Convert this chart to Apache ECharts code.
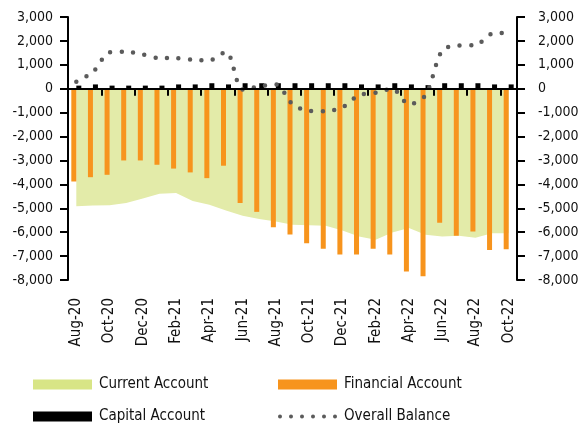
<!DOCTYPE html>
<html>
<head>
<meta charset="utf-8">
<script src="https://cdn.jsdelivr.net/npm/echarts@6/dist/echarts.min.js"></script>
<style>
  html, body { margin: 0; padding: 0; background: #fff; }
  #chart { width: 588px; height: 429px; }
</style>
</head>
<body>
<div id="chart"></div>
<script>
var MONTHS = ['Aug-20', 'Sep-20', 'Oct-20', 'Nov-20', 'Dec-20', 'Jan-21', 'Feb-21', 'Mar-21', 'Apr-21',
    'May-21', 'Jun-21', 'Jul-21', 'Aug-21', 'Sep-21', 'Oct-21', 'Nov-21', 'Dec-21', 'Jan-22', 'Feb-22',
    'Mar-22', 'Apr-22', 'May-22', 'Jun-22', 'Jul-22', 'Aug-22', 'Sep-22', 'Oct-22'];

var CURRENT_ACCOUNT = [-4920, -4880, -4870, -4780, -4590, -4390, -4360, -4700, -4850, -5090, -5310, -5450,
    -5550, -5690, -5710, -5730, -5930, -6180, -6320, -6010, -5830, -6110, -6180, -6150, -6230, -6040, -6040];

var FINANCIAL_ACCOUNT = [-3880, -3700, -3600, -3000, -3000, -3180, -3340, -3500, -3740, -3220, -4780, -5150,
    -5790, -6100, -6460, -6690, -6930, -6930, -6690, -6930, -7640, -7840, -5610, -6150, -5970, -6750, -6710];

var CAPITAL_ACCOUNT = [130, 180, 130, 130, 130, 130, 180, 180, 230, 180, 230, 230, 230, 230, 230, 230, 230,
    180, 180, 230, 180, 150, 230, 230, 230, 180, 180];

var OVERALL_BALANCE = [290, 700, 1520, 1550, 1430, 1280, 1280, 1210, 1190, 1540, -30, 100, 180, -650, -930,
    -940, -780, -270, -170, 0, -650, -270, 1600, 1810, 1820, 2300, 2340];

var Y_MIN = -8000;
var Y_MAX = 3000;
var Y_STEP = 1000;

var FONT = '"Liberation Sans Narrow", "DejaVu Sans Condensed", "Roboto", sans-serif';

// six dots for the overall balance legend key
var DOTS_ICON = 'path://' + [0, 1, 2, 3, 4, 5].map(function (i) {
    var x = i * 11;
    return 'M' + x + ',2a2,2 0 1,0 4,0a2,2 0 1,0 -4,0Z';
}).join('');

var CHART = {
    ID: 'chart',
    ini: function () {
        var chart = echarts.init(document.getElementById(this.ID), null, {renderer: 'canvas'});
        chart.setOption(this.option());
    },
    fmt: function (v) {
        return echarts.format.addCommas(v);
    },
    yAxis: function (pos, margin) {
        var me = this;
        return {
            type: 'value',
            position: pos,
            min: Y_MIN,
            max: Y_MAX,
            interval: Y_STEP,
            splitLine: {show: false},
            axisLine: {show: true, lineStyle: {color: '#000', width: 2}},
            axisTick: {show: true, length: 8, lineStyle: {color: '#000', width: 2}},
            axisLabel: {
                color: '#111',
                fontFamily: FONT,
                fontSize: 14,
                margin: margin,
                formatter: function (v) { return me.fmt(v); }
            }
        };
    },
    legend: function (left, top, item, w, h) {
        return {
            left: left,
            top: top,
            itemWidth: w || 59,
            itemHeight: h || 10,
            itemGap: 0,
            textStyle: {fontFamily: FONT, fontSize: 15, color: '#111', padding: [0, 0, 0, 2]},
            data: [item]
        };
    },
    option: function () {
        return {
            animation: false,
            textStyle: {fontFamily: FONT},
            grid: {left: 68, right: 71, top: 17, bottom: 149},
            legend: [
                this.legend(28, 372, {name: 'Current Account', icon: 'rect', itemStyle: {color: '#d8e586'}}),
                this.legend(28, 404, {name: 'Capital Account', icon: 'rect'}),
                this.legend(273, 372, {name: 'Financial Account', icon: 'rect'}),
                this.legend(273, 404, {name: 'Overall Balance', icon: DOTS_ICON, itemStyle: {color: '#5b5b5b'}}, 59, 4)
            ],
            xAxis: [{
                type: 'category',
                data: MONTHS,
                z: 10,
                axisLine: {onZero: true, lineStyle: {color: '#000', width: 2}},
                axisTick: {show: true, interval: 1, length: 7, inside: false, lineStyle: {color: '#000', width: 2}},
                axisLabel: {show: false}
            }, {
                type: 'category',
                data: MONTHS,
                position: 'bottom',
                axisLine: {show: false, onZero: false},
                axisTick: {show: false},
                axisLabel: {
                    interval: 1,
                    rotate: 90,
                    margin: 18,
                    color: '#111',
                    fontFamily: FONT,
                    fontSize: 15
                }
            }],
            yAxis: [this.yAxis('left', 15), this.yAxis('right', 21)],
            series: [{
                name: 'Current Account',
                type: 'line',
                data: CURRENT_ACCOUNT,
                symbol: 'none',
                lineStyle: {width: 0},
                itemStyle: {color: '#d8e586'},
                areaStyle: {color: '#e3eba9', opacity: 1},
                z: 1
            }, {
                name: 'Financial Account',
                type: 'bar',
                data: FINANCIAL_ACCOUNT,
                barWidth: 5,
                barGap: '0%',
                itemStyle: {color: '#f7941d'},
                z: 2
            }, {
                name: 'Capital Account',
                type: 'bar',
                data: CAPITAL_ACCOUNT,
                barWidth: 5,
                barGap: '0%',
                itemStyle: {color: '#000'},
                z: 2
            }, {
                name: 'Overall Balance',
                type: 'line',
                data: OVERALL_BALANCE,
                smooth: 0.3,
                symbol: 'none',
                itemStyle: {color: '#5b5b5b'},
                lineStyle: {color: '#5b5b5b', width: 4.5, type: [0, 11.5], cap: 'round'},
                z: 5
            }]
        };
    }
};

CHART.ini();
</script>
</body>
</html>
